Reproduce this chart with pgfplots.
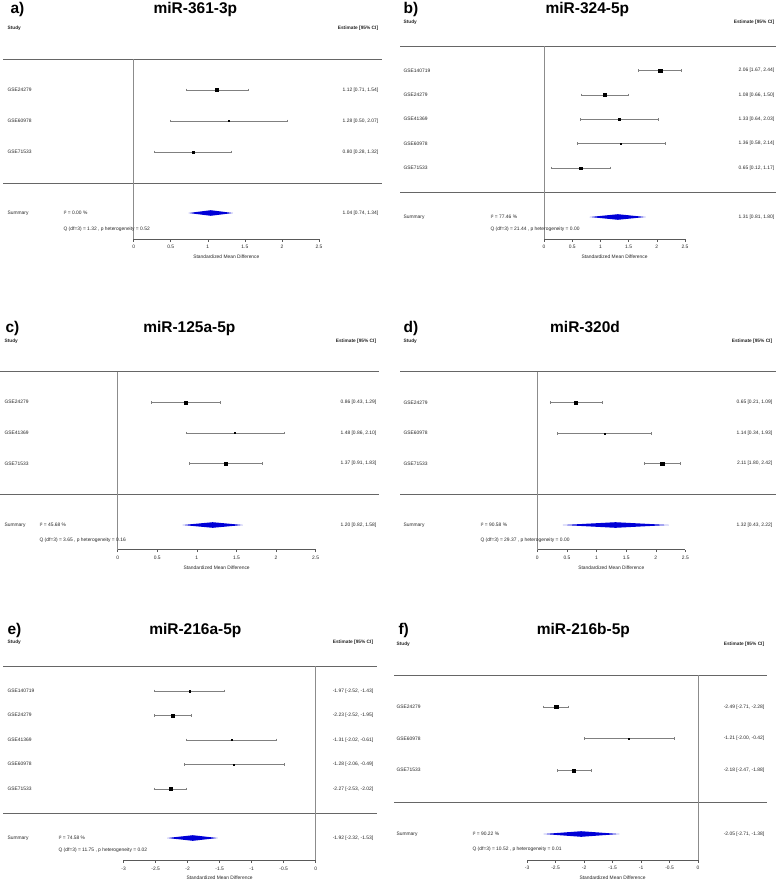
\documentclass[border=0pt]{standalone}
\usepackage{fontspec}
\setmainfont{Liberation Sans}
\usepackage{pgfplots}
\pgfplotsset{compat=1.18}
\definecolor{dblue}{RGB}{0,0,215}
\newcommand{\sm}{\fontsize{4.9}{5.5}\selectfont}
\newcommand{\hd}{\fontsize{4.8}{5.5}\selectfont\bfseries}
\newcommand{\ttl}{\fontsize{15.5}{17}\selectfont\bfseries}
\pgfplotsset{
  forest/.style={scale only axis, clip=false,
    axis x line*=bottom, axis y line=none,
    tick align=outside, major tick length=2.5pt,
    x axis line style={black!65, line width=0.5pt},
    xtick style={black!65, line width=0.5pt},
    xticklabel style={font=\sm, inner sep=1pt, text=black!85, yshift=-2.8pt},
    /pgf/number format/assume math mode=true},
  ci/.style={black!50, line width=0.45pt, mark=|, mark size=1.3pt, mark options={solid, black!50, line width=0.45pt}},
  sq/.style={only marks, mark=square*, black, mark options={fill=black, draw=black}},
  dia/.style={fill=dblue, draw=none},
}
\tikzset{
  lab/.style={anchor=west, inner sep=0pt, font=\sm, text=black!85},
  est/.style={anchor=east, inner sep=0pt, font=\sm, text=black!85},
  head/.style={inner sep=0pt, font=\hd, text=black!85},
  sep/.style={black!60, line width=0.7pt},
  zl/.style={black!45, line width=0.5pt},
}
\begin{document}
\begin{tikzpicture}[x=1pt,y=1pt]
\path (0,0) rectangle (777,-881);

% ================= a) =================
\node[anchor=base west, inner sep=0pt, font=\ttl] at (10,-13) {a)};
\node[anchor=base, inner sep=0pt, font=\ttl] at (195,-13) {miR-361-3p};
\node[head, anchor=west] at (7,-28) {Study};
\node[head, anchor=east] at (378,-28) {Estimate [95\% CI]};
\draw[sep] (3,-59) -- (382,-59);
\draw[sep] (3,-183) -- (382,-183);
\begin{scope}[shift={(133.3pt,-239pt)}]
\begin{axis}[forest, at={(0pt,0pt)}, anchor=south west, width=185.3pt, height=180pt,
  xmin=0, xmax=2.5, ymin=-239, ymax=-59, xtick={0,0.5,1,1.5,2,2.5}]
\draw[zl] (axis cs:0,-59) -- (axis cs:0,-239);
\addplot[ci] coordinates {(0.71,-90) (1.54,-90)};
\addplot[sq, mark size=1.6pt] coordinates {(1.12,-90)};
\addplot[ci] coordinates {(0.50,-121) (2.07,-121)};
\addplot[sq, mark size=0.5pt] coordinates {(1.28,-121)};
\addplot[ci] coordinates {(0.28,-152) (1.32,-152)};
\addplot[sq, mark size=1.2pt] coordinates {(0.80,-152)};
\addplot[dia] coordinates {(0.74,-213) (1.04,-210.2) (1.34,-213) (1.04,-215.8)} -- cycle;
\end{axis}
\end{scope}
\node[lab] at (7,-90) {GSE24279};
\node[lab] at (7,-121) {GSE60978};
\node[lab] at (7,-152) {GSE71533};
\node[lab] at (7,-213) {Summary};
\node[est] at (378,-90) {1.12 [0.71, 1.54]};
\node[est] at (378,-121) {1.28 [0.50, 2.07]};
\node[est] at (378,-152) {0.80 [0.28, 1.32]};
\node[est] at (378,-213) {1.04 [0.74, 1.34]};
\node[lab] at (63,-213) {I² = 0.00 \%};
\node[lab] at (63,-229) {Q (df=3) = 1.32 , p heterogeneity = 0.52};
\node[inner sep=0pt, font=\sm, text=black!85] at (226,-257) {Standardized Mean Difference};

% ================= b) =================
\node[anchor=base west, inner sep=0pt, font=\ttl] at (403,-13) {b)};
\node[anchor=base, inner sep=0pt, font=\ttl] at (587,-13) {miR-324-5p};
\node[head, anchor=west] at (403,-22) {Study};
\node[head, anchor=east] at (774,-22) {Estimate [95\% CI]};
\draw[sep] (400,-46) -- (776,-46);
\draw[sep] (400,-192.3) -- (776,-192.3);
\begin{scope}[shift={(543.7pt,-239pt)}]
\begin{axis}[forest, at={(0pt,0pt)}, anchor=south west, width=141pt, height=193pt,
  xmin=0, xmax=2.5, ymin=-239, ymax=-46, xtick={0,0.5,1,1.5,2,2.5}]
\draw[zl] (axis cs:0,-46) -- (axis cs:0,-239);
\addplot[ci] coordinates {(1.67,-70.7) (2.44,-70.7)};
\addplot[sq, mark size=1.6pt] coordinates {(2.06,-70.7)};
\addplot[ci] coordinates {(0.66,-95) (1.50,-95)};
\addplot[sq, mark size=1.6pt] coordinates {(1.08,-95)};
\addplot[ci] coordinates {(0.64,-119.3) (2.03,-119.3)};
\addplot[sq, mark size=0.7pt] coordinates {(1.33,-119.3)};
\addplot[ci] coordinates {(0.58,-143.7) (2.14,-143.7)};
\addplot[sq, mark size=0.5pt] coordinates {(1.36,-143.7)};
\addplot[ci] coordinates {(0.12,-168) (1.17,-168)};
\addplot[sq, mark size=1.3pt] coordinates {(0.65,-168)};
\addplot[dia] coordinates {(0.81,-217) (1.31,-214.2) (1.80,-217) (1.31,-219.8)} -- cycle;
\end{axis}
\end{scope}
\node[lab] at (403,-70.7) {GSE140719};
\node[lab] at (403,-95) {GSE24279};
\node[lab] at (403,-119.3) {GSE41369};
\node[lab] at (403,-143.7) {GSE60978};
\node[lab] at (403,-168) {GSE71533};
\node[lab] at (403,-217) {Summary};
\node[est] at (774,-70.7) {2.06 [1.67, 2.44]};
\node[est] at (774,-95) {1.08 [0.66, 1.50]};
\node[est] at (774,-119.3) {1.33 [0.64, 2.03]};
\node[est] at (774,-143.7) {1.36 [0.58, 2.14]};
\node[est] at (774,-168) {0.65 [0.12, 1.17]};
\node[est] at (774,-217) {1.31 [0.81, 1.80]};
\node[lab] at (490,-217) {I² = 77.46 \%};
\node[lab] at (490,-229.3) {Q (df=3) = 21.44 , p heterogeneity = 0.00};
\node[inner sep=0pt, font=\sm, text=black!85] at (614.2,-257) {Standardized Mean Difference};

% ================= c) =================
\node[anchor=base west, inner sep=0pt, font=\ttl] at (5,-332) {c)};
\node[anchor=base, inner sep=0pt, font=\ttl] at (189,-332) {miR-125a-5p};
\node[head, anchor=west] at (4,-341) {Study};
\node[head, anchor=east] at (376,-341) {Estimate [95\% CI]};
\draw[sep] (0,-371.7) -- (379,-371.7);
\draw[sep] (0,-494) -- (379,-494);
\begin{scope}[shift={(117.3pt,-549.7pt)}]
\begin{axis}[forest, at={(0pt,0pt)}, anchor=south west, width=198pt, height=178pt,
  xmin=0, xmax=2.5, ymin=-549.7, ymax=-371.7, xtick={0,0.5,1,1.5,2,2.5}]
\draw[zl] (axis cs:0,-371.7) -- (axis cs:0,-549.7);
\addplot[ci] coordinates {(0.43,-402.3) (1.29,-402.3)};
\addplot[sq, mark size=1.6pt] coordinates {(0.86,-402.3)};
\addplot[ci] coordinates {(0.86,-433) (2.10,-433)};
\addplot[sq, mark size=0.5pt] coordinates {(1.48,-433)};
\addplot[ci] coordinates {(0.91,-463.7) (1.83,-463.7)};
\addplot[sq, mark size=1.5pt] coordinates {(1.37,-463.7)};
\addplot[dia] coordinates {(0.82,-525) (1.20,-522.2) (1.58,-525) (1.20,-527.8)} -- cycle;
\end{axis}
\end{scope}
\node[lab] at (4,-402.3) {GSE24279};
\node[lab] at (4,-433) {GSE41369};
\node[lab] at (4,-463.7) {GSE71533};
\node[lab] at (4,-525) {Summary};
\node[est] at (376,-402.3) {0.86 [0.43, 1.29]};
\node[est] at (376,-433) {1.48 [0.86, 2.10]};
\node[est] at (376,-463.7) {1.37 [0.91, 1.83]};
\node[est] at (376,-525) {1.20 [0.82, 1.58]};
\node[lab] at (39,-525) {I² = 45.68 \%};
\node[lab] at (39,-540) {Q (df=3) = 3.65 , p heterogeneity = 0.16};
\node[inner sep=0pt, font=\sm, text=black!85] at (216.3,-567.7) {Standardized Mean Difference};

% ================= d) =================
\node[anchor=base west, inner sep=0pt, font=\ttl] at (403,-332) {d)};
\node[anchor=base, inner sep=0pt, font=\ttl] at (584.7,-332) {miR-320d};
\node[head, anchor=west] at (403,-341) {Study};
\node[head, anchor=east] at (772,-341) {Estimate [95\% CI]};
\draw[sep] (400,-371.7) -- (776,-371.7);
\draw[sep] (400,-494) -- (776,-494);
\begin{scope}[shift={(537pt,-549.7pt)}]
\begin{axis}[forest, at={(0pt,0pt)}, anchor=south west, width=148pt, height=178pt,
  xmin=0, xmax=2.5, ymin=-549.7, ymax=-371.7, xtick={0,0.5,1,1.5,2,2.5}]
\draw[zl] (axis cs:0,-371.7) -- (axis cs:0,-549.7);
\addplot[ci] coordinates {(0.21,-402.7) (1.09,-402.7)};
\addplot[sq, mark size=1.3pt] coordinates {(0.65,-402.7)};
\addplot[ci] coordinates {(0.34,-433.3) (1.93,-433.3)};
\addplot[sq, mark size=0.5pt] coordinates {(1.14,-433.3)};
\addplot[ci] coordinates {(1.80,-463.7) (2.42,-463.7)};
\addplot[sq, mark size=1.6pt] coordinates {(2.11,-463.7)};
\addplot[dia] coordinates {(0.43,-525) (1.32,-522.2) (2.22,-525) (1.32,-527.8)} -- cycle;
\end{axis}
\end{scope}
\node[lab] at (403,-402.7) {GSE24279};
\node[lab] at (403,-433.3) {GSE60978};
\node[lab] at (403,-463.7) {GSE71533};
\node[lab] at (403,-525) {Summary};
\node[est] at (772,-402.7) {0.65 [0.21, 1.09]};
\node[est] at (772,-433.3) {1.14 [0.34, 1.93]};
\node[est] at (772,-463.7) {2.11 [1.80, 2.42]};
\node[est] at (772,-525) {1.32 [0.43, 2.22]};
\node[lab] at (480,-525) {I² = 90.58 \%};
\node[lab] at (480,-540) {Q (df=3) = 29.37 , p heterogeneity = 0.00};
\node[inner sep=0pt, font=\sm, text=black!85] at (611,-567.7) {Standardized Mean Difference};

% ================= e) =================
\node[anchor=base west, inner sep=0pt, font=\ttl] at (7,-634) {e)};
\node[anchor=base, inner sep=0pt, font=\ttl] at (195,-634) {miR-216a-5p};
\node[head, anchor=west] at (7,-642) {Study};
\node[head, anchor=east] at (373,-642) {Estimate [95\% CI]};
\draw[sep] (3,-666.3) -- (377,-666.3);
\draw[sep] (3,-813.3) -- (377,-813.3);
\begin{scope}[shift={(123.3pt,-860.3pt)}]
\begin{axis}[forest, at={(0pt,0pt)}, anchor=south west, width=192pt, height=194pt,
  xmin=-3, xmax=0, ymin=-860.3, ymax=-666.3, xtick={-3,-2.5,-2,-1.5,-1,-0.5,0}]
\draw[zl] (axis cs:0,-666.3) -- (axis cs:0,-860.3);
\addplot[ci] coordinates {(-2.52,-691) (-1.43,-691)};
\addplot[sq, mark size=0.8pt] coordinates {(-1.97,-691)};
\addplot[ci] coordinates {(-2.52,-715.3) (-1.95,-715.3)};
\addplot[sq, mark size=1.5pt] coordinates {(-2.23,-715.3)};
\addplot[ci] coordinates {(-2.02,-740) (-0.61,-740)};
\addplot[sq, mark size=0.5pt] coordinates {(-1.31,-740)};
\addplot[ci] coordinates {(-2.06,-764.3) (-0.49,-764.3)};
\addplot[sq, mark size=0.5pt] coordinates {(-1.28,-764.3)};
\addplot[ci] coordinates {(-2.53,-789) (-2.02,-789)};
\addplot[sq, mark size=1.5pt] coordinates {(-2.27,-789)};
\addplot[dia] coordinates {(-2.32,-838) (-1.92,-835.2) (-1.53,-838) (-1.92,-840.8)} -- cycle;
\end{axis}
\end{scope}
\node[lab] at (7,-691) {GSE140719};
\node[lab] at (7,-715.3) {GSE24279};
\node[lab] at (7,-740) {GSE41369};
\node[lab] at (7,-764.3) {GSE60978};
\node[lab] at (7,-789) {GSE71533};
\node[lab] at (7,-838) {Summary};
\node[est] at (373,-691) {-1.97 [-2.52, -1.43]};
\node[est] at (373,-715.3) {-2.23 [-2.52, -1.95]};
\node[est] at (373,-740) {-1.31 [-2.02, -0.61]};
\node[est] at (373,-764.3) {-1.28 [-2.06, -0.49]};
\node[est] at (373,-789) {-2.27 [-2.53, -2.02]};
\node[est] at (373,-838) {-1.92 [-2.32, -1.53]};
\node[lab] at (58,-838) {I² = 74.58 \%};
\node[lab] at (58,-850.7) {Q (df=3) = 11.75 , p heterogeneity = 0.02};
\node[inner sep=0pt, font=\sm, text=black!85] at (219.3,-877.5) {Standardized Mean Difference};

% ================= f) =================
\node[anchor=base west, inner sep=0pt, font=\ttl] at (398,-634) {f)};
\node[anchor=base, inner sep=0pt, font=\ttl] at (583,-634) {miR-216b-5p};
\node[head, anchor=west] at (396,-644) {Study};
\node[head, anchor=east] at (764,-644) {Estimate [95\% CI]};
\draw[sep] (394,-675.3) -- (767,-675.3);
\draw[sep] (394,-802) -- (767,-802);
\begin{scope}[shift={(526.7pt,-860pt)}]
\begin{axis}[forest, at={(0pt,0pt)}, anchor=south west, width=171pt, height=184.7pt,
  xmin=-3, xmax=0, ymin=-860, ymax=-675.3, xtick={-3,-2.5,-2,-1.5,-1,-0.5,0}]
\draw[zl] (axis cs:0,-675.3) -- (axis cs:0,-860);
\addplot[ci] coordinates {(-2.71,-707) (-2.28,-707)};
\addplot[sq, mark size=1.6pt] coordinates {(-2.49,-707)};
\addplot[ci] coordinates {(-2.00,-738.7) (-0.42,-738.7)};
\addplot[sq, mark size=0.5pt] coordinates {(-1.21,-738.7)};
\addplot[ci] coordinates {(-2.47,-770.3) (-1.88,-770.3)};
\addplot[sq, mark size=1.4pt] coordinates {(-2.18,-770.3)};
\addplot[dia] coordinates {(-2.71,-834) (-2.05,-831.2) (-1.38,-834) (-2.05,-836.8)} -- cycle;
\end{axis}
\end{scope}
\node[lab] at (396,-707) {GSE24279};
\node[lab] at (396,-738.7) {GSE60978};
\node[lab] at (396,-770.3) {GSE71533};
\node[lab] at (396,-834) {Summary};
\node[est] at (764,-707) {-2.49 [-2.71, -2.28]};
\node[est] at (764,-738.7) {-1.21 [-2.00, -0.42]};
\node[est] at (764,-770.3) {-2.18 [-2.47, -1.88]};
\node[est] at (764,-834) {-2.05 [-2.71, -1.38]};
\node[lab] at (472,-834) {I² = 90.22 \%};
\node[lab] at (472,-849.3) {Q (df=3) = 10.52 , p heterogeneity = 0.01};
\node[inner sep=0pt, font=\sm, text=black!85] at (612.2,-877.5) {Standardized Mean Difference};
\end{tikzpicture}
\end{document}
